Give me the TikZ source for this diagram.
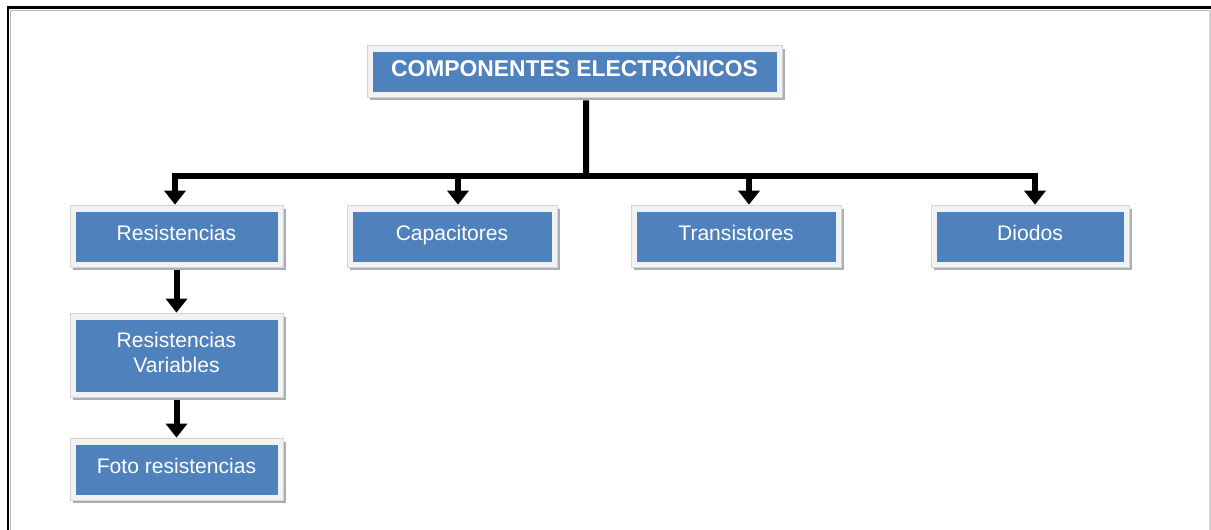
\documentclass[tikz,border=0pt]{standalone}
\usepackage{fontspec}
\setmainfont{Liberation Sans}
\usetikzlibrary{arrows.meta,shadows}

\definecolor{compblue}{HTML}{4F81BD}
\definecolor{comprim}{HTML}{F2F2F2}
\definecolor{compedge}{HTML}{D4D4D4}
\definecolor{compshadow}{HTML}{A9AEB6}

\tikzset{
	compbox/.style={rectangle, fill=comprim, draw=compedge, line width=0.4pt,
		text=white, align=center, inner sep=0pt,
		font=\fontsize{12}{14.2}\selectfont,
		drop shadow={shadow xshift=0.06cm, shadow yshift=-0.07cm, fill=compshadow, opacity=1},
		path picture={\fill[compblue]
			([shift={(0.11cm,-0.13cm)}]path picture bounding box.north west) rectangle
			([shift={(-0.1cm,0.09cm)}]path picture bounding box.south east);}},
	oneline/.style={text height=8pt, text depth=3.4pt},
	flow/.style={line width=0.12cm, -{Triangle[width=0.42cm,length=0.28cm]}},
	bar/.style={line width=0.12cm}
}

\begin{document}
\begin{tikzpicture}[x=0.02cm, y=-0.02cm]
\useasboundingbox (0,0) rectangle (1211,530);

\draw[gray!55, line width=0.03cm] (10.5,530) -- (10.5,10.5) -- (1211,10.5);
\draw[line width=0.06cm] (8,530) -- (8,8) -- (1211,8);
\draw[gray!35, line width=0.04cm] (1210,10) -- (1210,530);

\node[compbox, font=\bfseries\fontsize{13}{15}\selectfont, text height=9.6pt, text depth=3pt,
	minimum width=8.3cm, minimum height=1.04cm] (comp) at (574.5,71) {COMPONENTES ELECTRÓNICOS};

\node[compbox, oneline, minimum width=4.26cm, minimum height=1.24cm] (res) at (176.5,236) {Resistencias};
\node[compbox, oneline, minimum width=4.2cm, minimum height=1.24cm] (cap) at (452,236) {Capacitores};
\node[compbox, oneline, minimum width=4.2cm, minimum height=1.24cm] (tra) at (736,236) {Transistores};
\node[compbox, oneline, minimum width=3.96cm, minimum height=1.24cm] (dio) at (1030,236) {Diodos};

\node[compbox, minimum width=4.26cm, minimum height=1.68cm] (var) at (176.5,355)
	{\raisebox{1.8pt}{\begin{tabular}{@{}c@{}}Resistencias\\Variables\end{tabular}}};
\node[compbox, oneline, minimum width=4.26cm, minimum height=1.24cm] (foto) at (176.5,469) {Foto resistencias};

\coordinate (bus) at (586,176);
\draw[bar] ([xshift=0.23cm,yshift=-0.06cm]comp.south) -- (bus);
\draw[flow] (bus) -| ([xshift=-0.03cm]res.north);
\draw[flow] (bus) -| ([xshift=0.12cm]cap.north);
\draw[flow] (bus) -| ([xshift=0.26cm]tra.north);
\draw[flow] (bus) -| ([xshift=0.1cm]dio.north);

\draw[flow] ([yshift=-0.06cm]res.south) -- (var.north);
\draw[flow] ([yshift=-0.06cm]var.south) -- (foto.north);
\end{tikzpicture}
\end{document}
